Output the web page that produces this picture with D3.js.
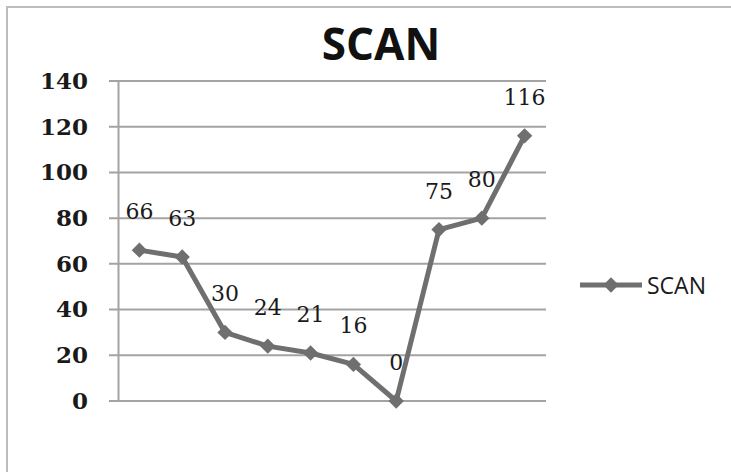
<!DOCTYPE html>
<html>
<head>
<meta charset="utf-8">
<script src="https://cdn.jsdelivr.net/npm/d3@7"></script>
<style>
  html, body { margin: 0; padding: 0; background: #fff; }
  svg { display: block; }
</style>
</head>
<body>
<svg id="chart" width="731" height="472"></svg>
<script>
// Series: one SCAN reading per position along the horizontal axis
const categories = ["1", "2", "3", "4", "5", "6", "7", "8", "9", "10"];
const scanValues = [66, 63, 30, 24, 21, 16, 0, 75, 80, 116];
const yTicks = [0, 20, 40, 60, 80, 100, 120, 140];
const seriesName = "SCAN";
const chartTitle = "SCAN";

const svg = d3.select("#chart");
const W = 731, H = 472;
const plot = { left: 118, right: 546, top: 81, bottom: 401 };
const lineColor = "#6f6f6f";
const gridColor = "#a3a3a3";

// outer chart frame
svg.append("rect")
  .attr("x", 7).attr("y", 7)
  .attr("width", W + 20).attr("height", H + 20)
  .attr("fill", "#fff")
  .attr("stroke", "#bdbdbd").attr("stroke-width", 2);

const x = d3.scaleBand().domain(categories).range([plot.left, plot.right]);
const y = d3.scaleLinear().domain([0, 140]).range([plot.bottom, plot.top]);

// horizontal gridlines
svg.append("g")
  .selectAll("line")
  .data(yTicks)
  .join("line")
  .attr("x1", plot.left - 9).attr("x2", plot.right)
  .attr("y1", d => y(d)).attr("y2", d => y(d))
  .attr("stroke", gridColor).attr("stroke-width", 2);

// value axis
const yAxis = d3.axisLeft(y).tickValues(yTicks).tickSize(0).tickPadding(30);
const gy = svg.append("g").attr("transform", `translate(${plot.left},0)`).call(yAxis);
gy.select(".domain").attr("stroke", gridColor).attr("stroke-width", 2);
gy.selectAll("text")
  .attr("font-family", "'DejaVu Serif', serif")
  .attr("font-weight", "bold")
  .attr("font-size", 23)
  .attr("fill", "#1a1a1a");

// series line
const cx = d => x(d.c) + x.bandwidth() / 2;
const pts = categories.map((c, i) => ({ c, v: scanValues[i] }));
svg.append("path")
  .datum(pts)
  .attr("fill", "none")
  .attr("stroke", lineColor)
  .attr("stroke-width", 5)
  .attr("stroke-linejoin", "round")
  .attr("d", d3.line().x(cx).y(d => y(d.v)));

// diamond markers
const diamond = d3.symbol().type(d3.symbolDiamond2).size(150);
svg.append("g")
  .selectAll("path")
  .data(pts)
  .join("path")
  .attr("transform", d => `translate(${cx(d)},${y(d.v)})`)
  .attr("d", diamond)
  .attr("fill", lineColor);

// value labels
svg.append("g")
  .selectAll("text")
  .data(pts)
  .join("text")
  .attr("x", cx)
  .attr("y", d => y(d.v) - 31)
  .attr("text-anchor", "middle")
  .attr("font-family", "'DejaVu Serif', serif")
  .attr("font-size", 22)
  .attr("fill", "#1a1a1a")
  .text(d => d.v);

// title
svg.append("text")
  .attr("x", 381).attr("y", 60)
  .attr("text-anchor", "middle")
  .attr("font-family", "'Open Sans', sans-serif")
  .attr("font-weight", "bold")
  .attr("font-size", 44)
  .attr("fill", "#111")
  .text(chartTitle);

// legend
const lg = svg.append("g").attr("transform", "translate(580,285)");
lg.append("line").attr("x1", 0).attr("x2", 62).attr("y1", 0).attr("y2", 0)
  .attr("stroke", lineColor).attr("stroke-width", 5);
lg.append("path").attr("transform", "translate(31,0)").attr("d", diamond).attr("fill", lineColor);
lg.append("text")
  .attr("x", 67).attr("y", 8.5)
  .attr("font-family", "'Open Sans', sans-serif")
  .attr("font-size", 23)
  .attr("fill", "#1a1a1a")
  .text(seriesName);
</script>
</body>
</html>
